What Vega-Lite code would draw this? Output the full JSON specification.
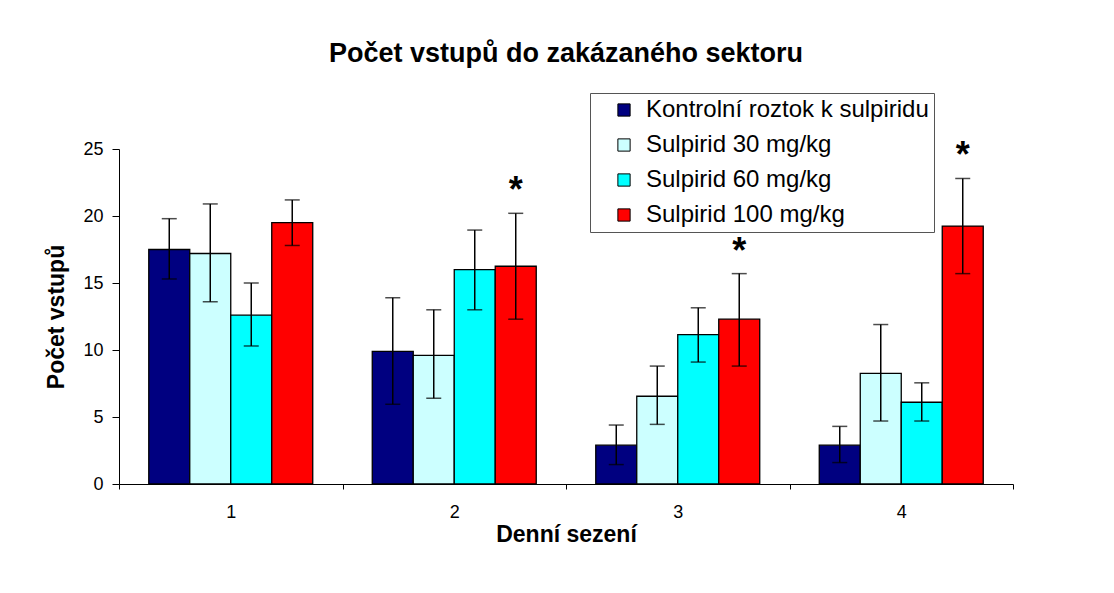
{
  "$schema": "https://vega.github.io/schema/vega-lite/v6.json",
  "autosize": {"type": "none"},
  "padding": {"left": 119, "top": 149, "right": 101, "bottom": 109},
  "width": 894,
  "height": 335,
  "background": "white",
  "config": {
    "font": "Liberation Sans",
    "view": {"stroke": null}
  },
  "title": {
    "text": "Počet vstupů do zakázaného sektoru",
    "font": "Liberation Sans",
    "fontSize": 27,
    "fontWeight": "bold",
    "color": "black",
    "anchor": "middle",
    "offset": 25
  },
  "data": {
    "values": [
      {"session": "1", "group": "Kontrolní roztok k sulpiridu", "value": 17.5, "lo": 15.3, "hi": 19.8, "sig": false},
      {"session": "1", "group": "Sulpirid 30 mg/kg", "value": 17.2, "lo": 13.6, "hi": 20.9, "sig": false},
      {"session": "1", "group": "Sulpirid 60 mg/kg", "value": 12.6, "lo": 10.3, "hi": 15.0, "sig": false},
      {"session": "1", "group": "Sulpirid 100 mg/kg", "value": 19.5, "lo": 17.8, "hi": 21.2, "sig": false},
      {"session": "2", "group": "Kontrolní roztok k sulpiridu", "value": 9.9, "lo": 5.95, "hi": 13.9, "sig": false},
      {"session": "2", "group": "Sulpirid 30 mg/kg", "value": 9.6, "lo": 6.4, "hi": 13.0, "sig": false},
      {"session": "2", "group": "Sulpirid 60 mg/kg", "value": 16.0, "lo": 13.0, "hi": 18.95, "sig": false},
      {"session": "2", "group": "Sulpirid 100 mg/kg", "value": 16.25, "lo": 12.3, "hi": 20.2, "sig": true},
      {"session": "3", "group": "Kontrolní roztok k sulpiridu", "value": 2.9, "lo": 1.45, "hi": 4.4, "sig": false},
      {"session": "3", "group": "Sulpirid 30 mg/kg", "value": 6.55, "lo": 4.45, "hi": 8.8, "sig": false},
      {"session": "3", "group": "Sulpirid 60 mg/kg", "value": 11.15, "lo": 9.1, "hi": 13.15, "sig": false},
      {"session": "3", "group": "Sulpirid 100 mg/kg", "value": 12.3, "lo": 8.8, "hi": 15.7, "sig": true},
      {"session": "4", "group": "Kontrolní roztok k sulpiridu", "value": 2.9, "lo": 1.6, "hi": 4.3, "sig": false},
      {"session": "4", "group": "Sulpirid 30 mg/kg", "value": 8.25, "lo": 4.7, "hi": 11.9, "sig": false},
      {"session": "4", "group": "Sulpirid 60 mg/kg", "value": 6.1, "lo": 4.7, "hi": 7.55, "sig": false},
      {"session": "4", "group": "Sulpirid 100 mg/kg", "value": 19.25, "lo": 15.7, "hi": 22.8, "sig": true}
    ]
  },
  "encoding": {
    "x": {
      "field": "session",
      "type": "ordinal",
      "scale": {"paddingInner": 0, "paddingOuter": 0},
      "axis": {
        "title": "Denní sezení",
        "titleFont": "Liberation Sans",
        "titleFontSize": 23,
        "titleFontWeight": "bold",
        "titleColor": "black",
        "titlePadding": 2,
        "labelAngle": 0,
        "labelFont": "Liberation Sans",
        "labelFontSize": 18,
        "labelColor": "black",
        "labelPadding": 14,
        "domainColor": "black",
        "domainWidth": 1,
        "tickColor": "black",
        "tickSize": 5,
        "tickBand": "extent"
      }
    },
    "xOffset": {
      "field": "group",
      "type": "nominal",
      "sort": ["Kontrolní roztok k sulpiridu", "Sulpirid 30 mg/kg", "Sulpirid 60 mg/kg", "Sulpirid 100 mg/kg"],
      "scale": {"paddingInner": 0, "paddingOuter": 0.726}
    }
  },
  "layer": [
    {
      "mark": {"type": "bar", "stroke": "black", "strokeWidth": 1.3},
      "encoding": {
        "y": {
          "field": "value",
          "type": "quantitative",
          "scale": {"domain": [0, 25], "nice": false},
          "axis": {
            "title": "Počet vstupů",
            "titleFont": "Liberation Sans",
            "titleFontSize": 23,
            "titleFontWeight": "bold",
            "titleColor": "black",
            "titlePadding": 14,
            "values": [0, 5, 10, 15, 20, 25],
            "grid": false,
            "labelFont": "Liberation Sans",
            "labelFontSize": 18,
            "labelColor": "black",
            "labelPadding": 9,
            "domainColor": "black",
            "tickColor": "black",
            "tickSize": 7
          }
        },
        "color": {
          "field": "group",
          "type": "nominal",
          "sort": ["Kontrolní roztok k sulpiridu", "Sulpirid 30 mg/kg", "Sulpirid 60 mg/kg", "Sulpirid 100 mg/kg"],
          "scale": {
            "domain": ["Kontrolní roztok k sulpiridu", "Sulpirid 30 mg/kg", "Sulpirid 60 mg/kg", "Sulpirid 100 mg/kg"],
            "range": ["#000080", "#CCFFFF", "#00FFFF", "#FF0000"]
          },
          "legend": {
            "title": null,
            "orient": "none",
            "legendX": 471,
            "legendY": -56,
            "symbolType": "square",
            "symbolSize": 150,
            "symbolOffset": 17,
            "symbolStrokeColor": "black",
            "symbolStrokeWidth": 1,
            "symbolOpacity": 1,
            "labelFont": "Liberation Sans",
            "labelFontSize": 24,
            "labelColor": "black",
            "labelOffset": 10,
            "labelLimit": 400,
            "rowPadding": 11,
            "strokeColor": "#555555",
            "fillColor": "white",
            "padding": 5
          }
        }
      }
    },
    {
      "mark": {"type": "rule", "color": "black", "strokeWidth": 1.5},
      "encoding": {
        "y": {"field": "lo", "type": "quantitative"},
        "y2": {"field": "hi"}
      }
    },
    {
      "mark": {"type": "tick", "color": "black", "size": 15, "thickness": 1.5, "orient": "horizontal"},
      "encoding": {
        "y": {"field": "lo", "type": "quantitative"}
      }
    },
    {
      "mark": {"type": "tick", "color": "black", "size": 15, "thickness": 1.5, "orient": "horizontal"},
      "encoding": {
        "y": {"field": "hi", "type": "quantitative"}
      }
    },
    {
      "transform": [{"filter": "datum.sig"}],
      "mark": {"type": "text", "text": "*", "font": "Liberation Sans", "fontSize": 36, "fontWeight": "bold", "color": "black", "baseline": "middle", "dy": -22},
      "encoding": {
        "y": {"field": "hi", "type": "quantitative"}
      }
    }
  ]
}
